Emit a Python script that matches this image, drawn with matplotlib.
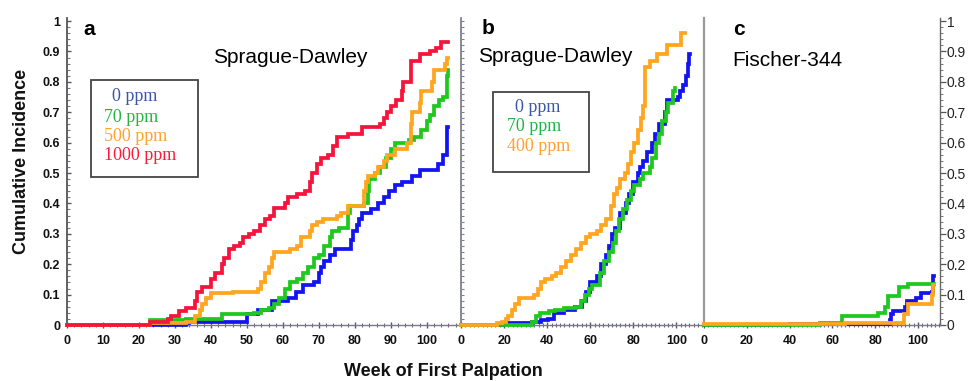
import matplotlib
matplotlib.use("Agg")
import matplotlib.pyplot as plt
from matplotlib.patches import Rectangle
from matplotlib.ticker import MultipleLocator

# ---------------- data (week of step, cumulative incidence after step) ----------------
# Panel a: Sprague-Dawley, 0 / 70 / 500 / 1000 ppm
a_wk_0 = [0, 33, 34, 50, 53, 57, 61.5, 63.5, 65.5, 68.5, 70, 70.5, 71.5, 73, 74.5, 79, 79.5, 80.5, 81, 82,
          84.5, 86.5, 88, 89.5, 91, 93, 96, 98, 103, 104.5, 105.5, 106]
a_ci_0 = [0, 0.005, 0.01, 0.035, 0.05, 0.08, 0.09, 0.11, 0.13, 0.14, 0.17, 0.19, 0.21, 0.23, 0.25, 0.28, 0.31,
          0.33, 0.35, 0.37, 0.38, 0.40, 0.42, 0.44, 0.46, 0.47, 0.49, 0.51, 0.53, 0.56, 0.65, 0.65]
a_wk_70 = [0, 23, 33, 43, 52, 54, 56, 57.5, 59, 60.5, 62, 64, 65.5, 67, 68.5, 70, 71.5, 73, 73.5, 75.5, 78,
           78.5, 82.5, 83.5, 84, 85.5, 87, 88.5, 90, 91, 95, 96.5, 98.5, 100, 101, 102, 103.5, 104.5, 105.5, 106]
a_ci_70 = [0, 0.015, 0.02, 0.035, 0.04, 0.05, 0.055, 0.07, 0.09, 0.12, 0.14, 0.15, 0.17, 0.19, 0.22, 0.23,
           0.26, 0.29, 0.31, 0.32, 0.37, 0.39, 0.40, 0.44, 0.48, 0.50, 0.52, 0.55, 0.58, 0.60, 0.61, 0.62,
           0.64, 0.67, 0.69, 0.72, 0.74, 0.75, 0.82, 0.84]
a_wk_500 = [0, 23, 33, 35.5, 37, 37.5, 38.5, 40, 46, 53, 54, 55, 56, 57, 57.5, 62, 64, 65, 67.5, 68, 69.5, 71,
            75, 76, 78, 82.5, 83, 83.5, 85.5, 86.5, 88, 89, 91, 94.5, 95.5, 96, 98, 98.5, 101.5, 102, 105,
            105.5, 106]
a_ci_500 = [0, 0.005, 0.01, 0.03, 0.05, 0.07, 0.09, 0.105, 0.11, 0.12, 0.14, 0.17, 0.19, 0.22, 0.24, 0.25,
            0.26, 0.29, 0.31, 0.33, 0.34, 0.35, 0.36, 0.37, 0.39, 0.44, 0.47, 0.49, 0.50, 0.52, 0.54, 0.56,
            0.58, 0.60, 0.66, 0.70, 0.73, 0.77, 0.80, 0.84, 0.86, 0.88, 0.88]
a_wk_1000 = [0, 23, 28, 29, 31, 33, 35.5, 36, 37.5, 40, 41, 43, 43.5, 45, 46.5, 48, 49, 50.5, 52, 53.5, 55,
             56.5, 57.5, 60.5, 61.5, 64, 66, 67.5, 68, 69.5, 70.5, 72.5, 74, 75, 78, 82, 87, 88, 89, 90,
             91.5, 93, 93.5, 95.5, 98, 101, 102.5, 104, 106]
a_ci_1000 = [0, 0.01, 0.02, 0.03, 0.045, 0.055, 0.08, 0.11, 0.125, 0.15, 0.17, 0.20, 0.22, 0.25, 0.26, 0.27,
             0.29, 0.30, 0.31, 0.33, 0.35, 0.36, 0.385, 0.40, 0.42, 0.43, 0.44, 0.47, 0.50, 0.53, 0.55, 0.56,
             0.59, 0.62, 0.63, 0.65, 0.66, 0.68, 0.70, 0.72, 0.74, 0.77, 0.80, 0.87, 0.89, 0.90, 0.91, 0.93,
             0.93]

# Panel b: Sprague-Dawley, 0 / 70 / 400 ppm
b_wk_0 = [0, 20, 33, 37, 40.5, 43, 48, 53, 56, 58, 60, 63, 65, 67.5, 68.5, 70, 71.5, 74, 76.5, 78, 80, 82, 83,
          84.5, 86.5, 88.5, 90, 92, 94.5, 95.5, 100.5, 101.5, 103, 104.5, 105.5, 106, 106.3]
b_ci_0 = [0, 0.005, 0.01, 0.015, 0.02, 0.04, 0.05, 0.06, 0.08, 0.11, 0.14, 0.16, 0.20, 0.23, 0.26, 0.30,
          0.32, 0.37, 0.40, 0.43, 0.47, 0.50, 0.52, 0.54, 0.57, 0.60, 0.63, 0.66, 0.70, 0.74, 0.75, 0.77,
          0.79, 0.82, 0.86, 0.89, 0.89]
b_wk_70 = [0, 33, 35, 36.5, 41, 43.5, 48, 53.5, 55.5, 57.5, 59.5, 61, 64.5, 66.5, 68.5, 70.5, 72, 73.5, 75,
           77, 79, 80.5, 83, 84.5, 87.5, 88.5, 90.5, 92, 93.5, 95, 96, 98.5, 99.3]
b_ci_70 = [0, 0.01, 0.03, 0.04, 0.045, 0.05, 0.055, 0.06, 0.08, 0.10, 0.12, 0.13, 0.17, 0.21, 0.24, 0.27,
           0.31, 0.35, 0.38, 0.41, 0.44, 0.46, 0.48, 0.50, 0.52, 0.55, 0.60, 0.63, 0.67, 0.70, 0.73, 0.77,
           0.78]
b_wk_400 = [0, 16.5, 19, 21, 22, 23.5, 25, 27, 34, 35.5, 37, 39, 42, 44, 46.5, 48.5, 51, 53.5, 55.5, 58, 60,
            63, 65, 67.5, 69.5, 71, 72.5, 74, 76, 77.5, 79, 80.5, 82, 83.5, 84.5, 85.5, 87.5, 91, 95.5, 102,
            104]
b_ci_400 = [0, 0.005, 0.01, 0.02, 0.03, 0.05, 0.07, 0.09, 0.10, 0.12, 0.14, 0.15, 0.16, 0.17, 0.19, 0.21,
            0.23, 0.25, 0.27, 0.29, 0.30, 0.31, 0.33, 0.35, 0.39, 0.43, 0.45, 0.48, 0.50, 0.53, 0.57, 0.60,
            0.64, 0.68, 0.72, 0.85, 0.87, 0.89, 0.92, 0.96, 0.96]

# Panel c: Fischer-344
c_wk_0 = [0, 40, 87, 87.5, 88.5, 94, 95, 99, 101.5, 106.5, 107, 107.5]
c_ci_0 = [0, 0.003, 0.015, 0.035, 0.045, 0.06, 0.078, 0.09, 0.105, 0.11, 0.16, 0.16]
c_wk_70 = [0, 54, 64.5, 81.5, 84.5, 86, 91, 95.5, 107.5]
c_ci_70 = [0, 0.008, 0.03, 0.04, 0.06, 0.095, 0.125, 0.135, 0.135]
c_wk_hi = [0, 66, 93.5, 95.5, 106.5, 107, 107.5]
c_ci_hi = [0.002, 0.008, 0.036, 0.07, 0.10, 0.13, 0.13]

legend_a = ["0 ppm", "70 ppm", "500 ppm", "1000 ppm"]
legend_b = ["0 ppm", "70 ppm", "400 ppm"]
strain_a = "Sprague-Dawley"
strain_b = "Sprague-Dawley"
strain_c = "Fischer-344"
x_ticks_a = list(range(0, 101, 10))
x_ticks_bc = list(range(0, 101, 20))
y_ticks = [0, 0.1, 0.2, 0.3, 0.4, 0.5, 0.6, 0.7, 0.8, 0.9, 1]
y_tick_labels = ["0", "0.1", "0.2", "0.3", "0.4", "0.5", "0.6", "0.7", "0.8", "0.9", "1"]

# ---------------- style ----------------
BLUE = "#1414f0"
GREEN = "#1ec81e"
ORANGE = "#ffa51e"
RED = "#f5143c"
LW = 2.7
SANS = ["Liberation Sans", "DejaVu Sans"]
SERIF = ["Liberation Serif", "DejaVu Serif"]
plt.rcParams["font.family"] = SANS

W, H = 968, 381
fig = plt.figure(figsize=(W / 100, H / 100), dpi=100)

y0_px, y1_px = 325, 18


def make_ax(left_px, right_px):
    return fig.add_axes([left_px / W, (H - y0_px) / H, (right_px - left_px) / W, (y0_px - y1_px) / H])


ax_a = make_ax(67, 460)
ax_b = make_ax(461, 703)
ax_c = make_ax(704, 940)

for ax, xmax in ((ax_a, 109.2), (ax_b, 112.3), (ax_c, 110.3)):
    ax.set_xlim(0, xmax)
    ax.set_ylim(0, 1.01)
    ax.set_facecolor("none")
    for s in ("top", "right"):
        ax.spines[s].set_visible(False)
    ax.spines["bottom"].set_color("#7a7a8a")
    ax.spines["bottom"].set_linewidth(1.0)
    ax.xaxis.set_minor_locator(MultipleLocator(2))
    ax.tick_params(axis="x", which="major", direction="inout", length=5, width=1, color="#556",
                   labelsize=9, pad=5)
    ax.tick_params(axis="x", which="minor", direction="inout", length=3, width=0.8, color="#667")
    for lab in ax.get_xticklabels():
        lab.set_fontweight("bold")

ax_a.set_xticks(x_ticks_a)
ax_b.set_xticks(x_ticks_bc)
ax_c.set_xticks(x_ticks_bc)
for ax in (ax_a, ax_b, ax_c):
    ax.set_xticklabels([str(t) for t in ax.get_xticks()], fontweight="bold", fontsize=9, color="#111")

# y axes
ax_a.set_yticks(y_ticks)
ax_a.set_yticklabels(y_tick_labels, fontweight="bold", fontsize=9, color="#111")
ax_a.yaxis.set_minor_locator(MultipleLocator(0.02))
ax_a.tick_params(axis="y", which="major", direction="in", length=3, width=1, color="#556", pad=5)
ax_a.tick_params(axis="y", which="minor", direction="in", length=2, width=0.8, color="#778")
ax_a.spines["left"].set_color("#555")
ax_a.spines["left"].set_linewidth(1.3)

ax_b.set_yticks(y_ticks)
ax_b.yaxis.set_minor_locator(MultipleLocator(0.02))
ax_b.tick_params(axis="y", which="both", direction="in", length=2, width=0.8, color="#7080b0",
                 labelleft=False)
ax_b.spines["left"].set_color("#777")
ax_b.spines["left"].set_linewidth(1.2)

ax_c.spines["left"].set_color("#999")
ax_c.spines["left"].set_linewidth(1.6)
ax_c.spines["right"].set_visible(True)
ax_c.spines["right"].set_color("#666")
ax_c.spines["right"].set_linewidth(1.0)
ax_c.set_yticks(y_ticks)
ax_c.set_yticklabels(y_tick_labels, fontsize=10, color="#222")
ax_c.yaxis.set_minor_locator(MultipleLocator(0.02))
ax_c.tick_params(axis="y", which="major", left=False, right=True, labelleft=False, labelright=True,
                 direction="out", length=4, width=0.9, color="#555", pad=1)
ax_c.tick_params(axis="y", which="minor", left=False, right=True, direction="out", length=2, width=0.7,
                 color="#777")

# ---------------- curves ----------------
def step(ax, wk, ci, color):
    ax.step(wk, ci, where="post", color=color, lw=LW, clip_on=False, solid_joinstyle="miter", zorder=3)


step(ax_a, a_wk_0, a_ci_0, BLUE)
step(ax_a, a_wk_70, a_ci_70, GREEN)
step(ax_a, a_wk_500, a_ci_500, ORANGE)
step(ax_a, a_wk_1000, a_ci_1000, RED)

step(ax_b, b_wk_0, b_ci_0, BLUE)
step(ax_b, b_wk_70, b_ci_70, GREEN)
step(ax_b, b_wk_400, b_ci_400, ORANGE)

step(ax_c, c_wk_0, c_ci_0, BLUE)
step(ax_c, c_wk_70, c_ci_70, GREEN)
step(ax_c, c_wk_hi, c_ci_hi, ORANGE)

# ---------------- panel labels ----------------
ax_a.text(0.041, 0.964, "a", transform=ax_a.transAxes, fontsize=15, fontweight="bold", va="center")
ax_a.text(0.3715, 0.87, strain_a, transform=ax_a.transAxes, fontsize=15, va="center")
ax_b.text(0.087, 0.967, "b", transform=ax_b.transAxes, fontsize=15, fontweight="bold", va="center")
ax_b.text(0.070, 0.873, strain_b, transform=ax_b.transAxes, fontsize=15, va="center")
ax_c.text(0.123, 0.961, "c", transform=ax_c.transAxes, fontsize=15, fontweight="bold", va="center")
ax_c.text(0.119, 0.863, strain_c, transform=ax_c.transAxes, fontsize=15, va="center")

# ---------------- legend boxes ----------------
ax_a.add_patch(Rectangle((0.061, 0.482), 0.272, 0.316, transform=ax_a.transAxes, fill=False,
                         edgecolor="#444", lw=1.3, zorder=4))
leg_a_colors = ["#3a56a8", "#22b640", "#ffa030", "#ff1838"]
leg_a_x = [0.1145, 0.094, 0.094, 0.094]
leg_a_y = [0.743, 0.6775, 0.6156, 0.5505]
for lab, c, x, y in zip(legend_a, leg_a_colors, leg_a_x, leg_a_y):
    ax_a.text(x, y, lab, transform=ax_a.transAxes, color=c, fontsize=13, family=SERIF, va="center",
              zorder=5)

ax_b.add_patch(Rectangle((0.132, 0.498), 0.397, 0.261, transform=ax_b.transAxes, fill=False,
                         edgecolor="#444", lw=1.3, zorder=4))
leg_b_colors = ["#3a56a8", "#22b640", "#ffa030"]
leg_b_x = [0.223, 0.190, 0.190]
leg_b_y = [0.707, 0.645, 0.580]
for lab, c, x, y in zip(legend_b, leg_b_colors, leg_b_x, leg_b_y):
    ax_b.text(x, y, lab, transform=ax_b.transAxes, color=c, fontsize=13, family=SERIF, va="center",
              zorder=5)

# ---------------- axis titles ----------------
fig.text(22 / W, 1 - 161 / H, "Cumulative Incidence", rotation=90, ha="center", va="center",
         fontsize=13, fontweight="bold", color="#111")
fig.text(443 / W, 1 - 372 / H, "Week of First Palpation", ha="center", va="center",
         fontsize=13, fontweight="bold", color="#111")

fig.savefig("out.png", dpi=100)
